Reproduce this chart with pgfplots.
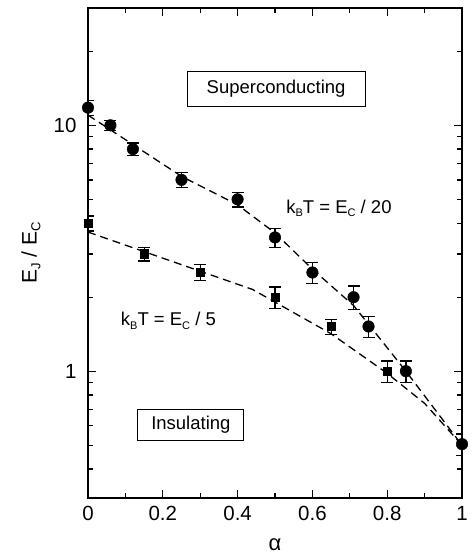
\documentclass[border=0pt]{standalone}
\usepackage{fontspec}
\setmainfont{Liberation Sans}
\usepackage{pgfplots}
\pgfplotsset{compat=1.18}
\usetikzlibrary{calc}

\newcommand\sub[2]{\raisebox{-0.35ex}{\fontsize{#1}{#1}\selectfont #2}}

% circles: k_B T = E_C/20, squares: k_B T = E_C/5 ; err = relative
\pgfplotstableread{
x     y      err
0.00  11.8   0.07
0.06  10.0   0.05
0.12  8.0    0.06
0.25  6.0    0.07
0.40  5.0    0.07
0.50  3.5    0.09
0.60  2.52   0.10
0.71  2.0    0.11
0.75  1.52   0.10
0.85  1.0    0.10
1.00  0.505  0.10
}\circdata
\pgfplotstableread{
x     y      err
0.00  4.0    0.07
0.15  3.0    0.065
0.30  2.52   0.075
0.50  2.0    0.10
0.65  1.52   0.07
0.80  1.0    0.10
}\sqdata

\begin{document}
\begin{tikzpicture}
\begin{axis}[
    scale only axis,
    width=374pt, height=490pt,
    xmin=0, xmax=1,
    ymode=log, ymin=0.305, ymax=30,
    xtick={0,0.2,0.4,0.6,0.8,1},
    xticklabels={0,0.2,0.4,0.6,0.8,1},
    minor xtick={0.1,0.3,0.5,0.7,0.9},
    ytick={1,10}, yticklabels={1,10},
    minor ytick={0.4,0.5,0.6,0.7,0.8,0.9,2,3,4,5,6,7,8,9,20},
    tick align=inside,
    ticklabel pos=left,
    major tick length=8pt,
    minor tick length=5pt,
    every tick/.style={black, line width=1.3pt},
    axis line style={line width=1.6pt},
    tick label style={font=\fontsize{20.5}{20.5}\selectfont},
    x tick label style={yshift=-5pt},
    y tick label style={xshift=-8pt},
    xlabel={\fontsize{22}{22}\selectfont α},
    xlabel style={at={(axis description cs:0.5,0)}, anchor=center, yshift=-47pt},
    ylabel={\fontsize{21}{21}\selectfont E\sub{13}{J} / E\sub{13}{C}},
    ylabel style={at={(axis description cs:0,0.5)}, anchor=center, yshift=57pt},
    error bars/error bar style={line width=1.2pt},
    error bars/error mark options={rotate=90, mark size=6pt, line width=1.2pt},
]
\addplot[black, dashed, dash pattern=on 8pt off 5pt, line width=1.3pt]
    coordinates {(0,11.0) (0.25,6.2) (0.4,4.75) (0.5,3.65) (0.6,2.6) (0.71,1.85) (0.85,1.0) (1,0.5)};
\addplot[black, dashed, dash pattern=on 8pt off 5pt, line width=1.3pt]
    coordinates {(0,3.68) (0.44,2.15) (0.65,1.42) (0.8,0.98) (0.9,0.74) (1,0.5)};

\addplot[black, only marks, mark=*, mark size=5.8pt,
    error bars/.cd, y dir=both, y explicit relative]
    table[x=x, y=y, y error=err] {\circdata};
\addplot[black, only marks, mark=square*, mark size=4.2pt,
    error bars/.cd, y dir=both, y explicit relative]
    table[x=x, y=y, y error=err] {\sqdata};

\node[draw, line width=1.2pt, minimum width=178pt, minimum height=35pt,
      font=\fontsize{18.5}{18.5}\selectfont] at (axis cs:0.503,14.1) {Superconducting};
\node[draw, line width=1.2pt, minimum width=106pt, minimum height=31pt,
      font=\fontsize{18.5}{18.5}\selectfont] at (axis cs:0.275,0.603) {Insulating};
\node[font=\fontsize{18.5}{18.5}\selectfont] at (axis cs:0.671,4.6)
    {k\sub{11}{B}T = E\sub{11}{C} / 20};
\node[font=\fontsize{18.5}{18.5}\selectfont] at (axis cs:0.215,1.6)
    {k\sub{11}{B}T = E\sub{11}{C} / 5};
\end{axis}
\path ($(current axis.south west)+(-88pt,-58pt)$) rectangle ($(current axis.north east)+(4pt,8pt)$);
\end{tikzpicture}
\end{document}
